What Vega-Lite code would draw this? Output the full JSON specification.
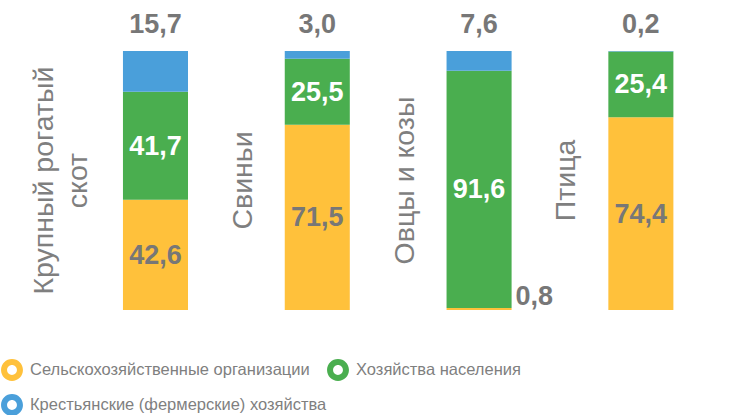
{
  "$schema": "https://vega.github.io/schema/vega-lite/v6.json",
  "width": 753,
  "height": 259,
  "autosize": {"type": "none"},
  "padding": {"left": 0, "top": 51, "right": 0, "bottom": 105},
  "background": "white",
  "config": {
    "view": {"stroke": null},
    "font": "Liberation Sans",
    "locale": {"number": {"decimal": ",", "thousands": " ", "grouping": [3], "currency": ["", ""]}}
  },
  "datasets": {
    "shares": [
      {"cat": "Крупный рогатый скот", "group": "Сельскохозяйственные организации", "ord": 1, "value": 42.6},
      {"cat": "Крупный рогатый скот", "group": "Хозяйства населения", "ord": 2, "value": 41.7},
      {"cat": "Крупный рогатый скот", "group": "Крестьянские (фермерские) хозяйства", "ord": 3, "value": 15.7},
      {"cat": "Свиньи", "group": "Сельскохозяйственные организации", "ord": 1, "value": 71.5},
      {"cat": "Свиньи", "group": "Хозяйства населения", "ord": 2, "value": 25.5},
      {"cat": "Свиньи", "group": "Крестьянские (фермерские) хозяйства", "ord": 3, "value": 3.0},
      {"cat": "Овцы и козы", "group": "Сельскохозяйственные организации", "ord": 1, "value": 0.8},
      {"cat": "Овцы и козы", "group": "Хозяйства населения", "ord": 2, "value": 91.6},
      {"cat": "Овцы и козы", "group": "Крестьянские (фермерские) хозяйства", "ord": 3, "value": 7.6},
      {"cat": "Птица", "group": "Сельскохозяйственные организации", "ord": 1, "value": 74.4},
      {"cat": "Птица", "group": "Хозяйства населения", "ord": 2, "value": 25.4},
      {"cat": "Птица", "group": "Крестьянские (фермерские) хозяйства", "ord": 3, "value": 0.2}
    ],
    "cats1": [
      {"cat": "Свиньи", "label": "Свиньи"},
      {"cat": "Овцы и козы", "label": "Овцы и козы"},
      {"cat": "Птица", "label": "Птица"}
    ],
    "cats2": [
      {"cat": "Крупный рогатый скот", "label": "Крупный рогатый\nскот"}
    ]
  },
  "layer": [
    {
      "data": {"name": "shares"},
      "transform": [
        {"stack": "value", "groupby": ["cat"], "sort": [{"field": "ord"}], "as": ["v0", "v1"]}
      ],
      "mark": {"type": "bar"},
      "encoding": {
        "x": {
          "field": "cat", "type": "nominal", "axis": null,
          "sort": ["Крупный рогатый скот", "Свиньи", "Овцы и козы", "Птица"],
          "scale": {"paddingInner": 0.598, "paddingOuter": 0.626, "align": 0.607}
        },
        "y": {"field": "v0", "type": "quantitative", "axis": null, "scale": {"domain": [0, 100], "nice": false}},
        "y2": {"field": "v1"},
        "color": {
          "field": "group", "type": "nominal",
          "scale": {
            "domain": ["Сельскохозяйственные организации", "Хозяйства населения", "Крестьянские (фермерские) хозяйства"],
            "range": ["#FFC13B", "#4AAE4F", "#4A9FDA"]
          },
          "legend": {
            "title": null,
            "orient": "none",
            "legendX": 1,
            "legendY": 308,
            "direction": "horizontal",
            "columns": 2,
            "padding": 0,
            "symbolType": "M-1,0A1,1,0,1,1,1,0A1,1,0,1,1,-1,0Z M-0.45,0A0.45,0.45,0,1,0,0.45,0A0.45,0.45,0,1,0,-0.45,0Z",
            "symbolSize": 480,
            "symbolStrokeWidth": 0,
            "labelFont": "Liberation Sans",
            "labelFontSize": 16.5,
            "labelColor": "#7f7f7f",
            "labelLimit": 500,
            "labelOffset": 7,
            "rowPadding": 13,
            "columnPadding": 0
          }
        }
      }
    },
    {
      "data": {"name": "shares"},
      "transform": [
        {"stack": "value", "groupby": ["cat"], "sort": [{"field": "ord"}], "as": ["v0", "v1"]},
        {"filter": "datum.ord < 3 && datum.value >= 5"},
        {"fold": ["v0", "v1"], "as": ["edge", "pos"]},
        {"aggregate": [{"op": "mean", "field": "pos", "as": "mid"}], "groupby": ["cat", "group", "value"]}
      ],
      "mark": {"type": "text", "fontSize": 27, "fontWeight": "bold", "align": "center", "baseline": "middle", "dy": 1},
      "encoding": {
        "x": {"field": "cat", "type": "nominal", "sort": ["Крупный рогатый скот", "Свиньи", "Овцы и козы", "Птица"]},
        "y": {"field": "mid", "type": "quantitative"},
        "text": {"field": "value", "type": "quantitative", "format": ".1f"},
        "fill": {"condition": {"test": "datum.group === 'Хозяйства населения'", "value": "#ffffff"}, "value": "#777777"}
      }
    },
    {
      "data": {"name": "shares"},
      "transform": [{"filter": "datum.ord === 3"}],
      "mark": {"type": "text", "fontSize": 27, "fontWeight": "bold", "align": "center", "baseline": "alphabetic", "dy": -18, "fill": "#777777"},
      "encoding": {
        "x": {"field": "cat", "type": "nominal", "sort": ["Крупный рогатый скот", "Свиньи", "Овцы и козы", "Птица"]},
        "y": {"datum": 100, "type": "quantitative"},
        "text": {"field": "value", "type": "quantitative", "format": ".1f"}
      }
    },
    {
      "data": {"name": "shares"},
      "transform": [{"filter": "datum.ord === 1 && datum.value < 5"}],
      "mark": {"type": "text", "fontSize": 27, "fontWeight": "bold", "align": "left", "baseline": "alphabetic", "dx": 4, "dy": -5, "fill": "#777777"},
      "encoding": {
        "x": {"field": "cat", "type": "nominal", "bandPosition": 1, "sort": ["Крупный рогатый скот", "Свиньи", "Овцы и козы", "Птица"]},
        "y": {"datum": 0, "type": "quantitative"},
        "text": {"field": "value", "type": "quantitative", "format": ".1f"}
      }
    },
    {
      "data": {"name": "cats1"},
      "mark": {"type": "text", "fontSize": 28.5, "angle": 270, "align": "center", "baseline": "bottom", "dy": -27, "fill": "#7f7f7f"},
      "encoding": {
        "x": {"field": "cat", "type": "nominal", "bandPosition": 0, "sort": ["Крупный рогатый скот", "Свиньи", "Овцы и козы", "Птица"]},
        "y": {"datum": 50, "type": "quantitative"},
        "text": {"field": "label", "type": "nominal"}
      }
    },
    {
      "data": {"name": "cats2"},
      "mark": {"type": "text", "fontSize": 28.5, "angle": 270, "align": "center", "baseline": "bottom", "dy": -64, "lineBreak": "\n", "lineHeight": 34, "fill": "#7f7f7f"},
      "encoding": {
        "x": {"field": "cat", "type": "nominal", "bandPosition": 0, "sort": ["Крупный рогатый скот", "Свиньи", "Овцы и козы", "Птица"]},
        "y": {"datum": 50, "type": "quantitative"},
        "text": {"field": "label", "type": "nominal"}
      }
    }
  ]
}
